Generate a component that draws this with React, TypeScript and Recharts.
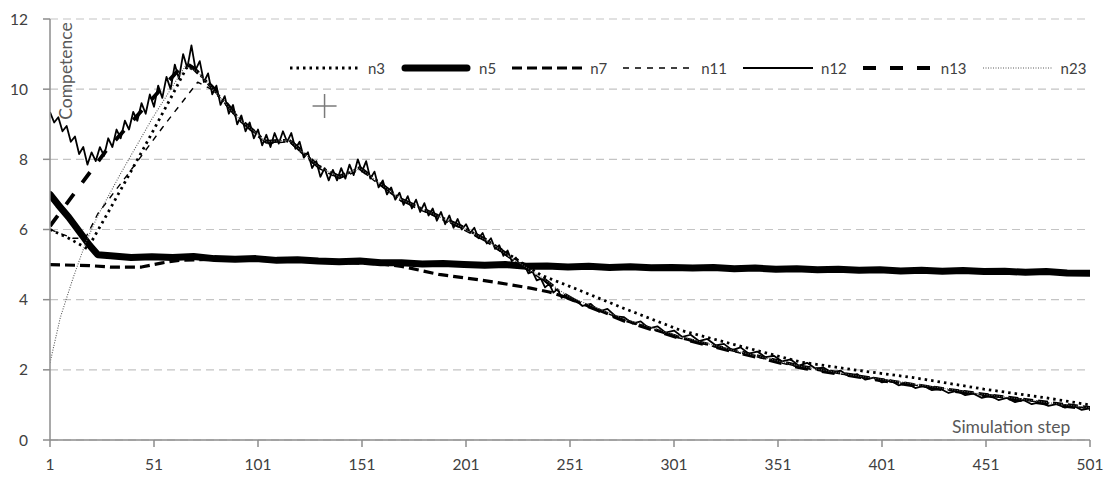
import React from 'react';
import { LineChart, Line, XAxis, YAxis, CartesianGrid, ReferenceDot } from 'recharts';

// ---------- tick labels ----------
const xTicks = [1, 51, 101, 151, 201, 251, 301, 351, 401, 451, 501];
const yTicks = [0, 2, 4, 6, 8, 10, 12];

// ---------- series values ----------
const n3Steps = [1, 10, 19, 30, 45, 60, 67, 72, 80, 92, 105, 116, 130, 140, 150, 160, 170, 185, 198, 212, 224, 237, 250, 277, 304, 330, 362, 390, 416, 450, 480, 501];
const n3Values = [6.0, 5.75, 5.45, 6.6, 8.2, 9.85, 10.65, 10.5, 9.95, 9.15, 8.5, 8.55, 7.8, 7.5, 7.75, 7.3, 6.85, 6.45, 6.12, 5.65, 5.2, 4.7, 4.4, 3.75, 3.13, 2.72, 2.22, 1.98, 1.78, 1.45, 1.2, 1.0];

const n5Steps = [1, 5, 10, 15, 20, 24, 30, 40, 50, 60, 70, 80, 90, 100, 110, 120, 130, 140, 150, 160, 170, 180, 190, 200, 210, 220, 230, 240, 250, 260, 270, 280, 290, 300, 310, 320, 330, 340, 350, 360, 370, 380, 390, 400, 410, 420, 430, 440, 450, 460, 470, 480, 490, 501];
const n5Values = [7.0, 6.7, 6.35, 5.95, 5.55, 5.28, 5.25, 5.2, 5.22, 5.2, 5.23, 5.17, 5.15, 5.17, 5.12, 5.14, 5.1, 5.08, 5.1, 5.05, 5.05, 5.02, 5.03, 5.0, 4.98, 5.0, 4.95, 4.96, 4.93, 4.95, 4.92, 4.94, 4.91, 4.92, 4.9, 4.92, 4.88, 4.9, 4.87, 4.88, 4.85, 4.87, 4.84, 4.85, 4.82, 4.84, 4.81, 4.83, 4.8, 4.81, 4.78, 4.8, 4.76, 4.75];

const n7Steps = [1, 20, 30, 45, 55, 63, 80, 100, 130, 160, 170, 188, 203, 215, 232, 241, 250, 277, 304, 330, 362, 390, 416, 450, 480, 501];
const n7Values = [5.0, 4.97, 4.93, 4.93, 5.05, 5.12, 5.15, 5.12, 5.08, 5.02, 4.95, 4.72, 4.6, 4.5, 4.33, 4.22, 4.05, 3.42, 2.92, 2.55, 2.1, 1.82, 1.58, 1.3, 1.08, 0.92];

const n11Steps = [1, 12, 18, 24, 40, 55, 72, 80, 92, 105, 116, 130, 140, 150, 160, 170, 185, 198, 212, 224, 237, 250, 277, 304, 330, 362, 390, 416, 450, 480, 501];
const n11Values = [6.0, 5.75, 5.75, 6.45, 7.7, 8.9, 10.2, 9.95, 9.1, 8.45, 8.5, 7.75, 7.45, 7.7, 7.25, 6.8, 6.4, 6.05, 5.6, 5.1, 4.6, 4.05, 3.42, 2.9, 2.52, 2.06, 1.8, 1.57, 1.28, 1.05, 0.9];

// n12: every 2nd step from 1 to 249, then every 4th step from 253 to 501
const n12ValuesEarly = [
  9.35, 9.05, 9.2, 8.8, 8.95, 8.5, 8.65, 8.15, 8.35, 7.85,
  8.2, 7.95, 8.35, 8.1, 8.6, 8.35, 8.85, 8.6, 9.1, 8.85,
  9.35, 9.1, 9.6, 9.3, 9.85, 9.5, 10.1, 9.75, 10.35, 10.0,
  10.7, 10.3, 11.0, 10.6, 11.25, 10.55, 10.8, 10.2, 10.45, 9.85,
  10.1, 9.55, 9.8, 9.3, 9.55, 9.0, 9.25, 8.8, 9.05, 8.6,
  8.85, 8.4, 8.7, 8.35, 8.75, 8.45, 8.8, 8.5, 8.75, 8.3,
  8.5, 8.05, 8.2, 7.75, 7.95, 7.5, 7.75, 7.4, 7.7, 7.4,
  7.75, 7.45, 7.85, 7.55, 8.0, 7.65, 7.95, 7.45, 7.65, 7.2,
  7.4, 7.0, 7.2, 6.85, 7.05, 6.7, 6.95, 6.6, 6.85, 6.5,
  6.75, 6.4, 6.6, 6.25, 6.5, 6.15, 6.4, 6.05, 6.3, 6.0,
  6.15, 5.9, 6.05, 5.75, 5.9, 5.6, 5.75, 5.45, 5.55, 5.25,
  5.4, 5.1, 5.2, 4.95, 5.0, 4.75, 4.8, 4.55, 4.6, 4.35,
  4.45, 4.2, 4.3, 4.05, 4.15,
];
const n12ValuesLate = [
  4.02, 3.82, 3.88, 3.66, 3.74, 3.52, 3.5, 3.32, 3.38, 3.18,
  3.24, 3.06, 3.12, 2.94, 3.0, 2.82, 2.88, 2.7, 2.74, 2.56,
  2.64, 2.46, 2.52, 2.36, 2.4, 2.24, 2.3, 2.12, 2.2, 2.04,
  2.06, 1.92, 1.98, 1.82, 1.88, 1.72, 1.78, 1.64, 1.7, 1.56,
  1.62, 1.48, 1.54, 1.42, 1.46, 1.34, 1.4, 1.28, 1.32, 1.2,
  1.26, 1.14, 1.2, 1.08, 1.14, 1.02, 1.08, 0.97, 1.02, 0.92,
  0.98, 0.86, 0.9,
];

const n13Steps = [1, 28, 52, 66, 70, 80, 92, 105, 116, 130, 140, 150, 160, 170, 185, 198, 212, 224, 237, 250, 277, 304, 330, 362, 390, 416, 450, 480, 501];
const n13Values = [6.1, 8.25, 9.85, 10.75, 10.6, 10.0, 9.15, 8.5, 8.55, 7.8, 7.5, 7.75, 7.3, 6.85, 6.45, 6.1, 5.65, 5.15, 4.65, 4.05, 3.4, 2.9, 2.52, 2.06, 1.8, 1.56, 1.28, 1.04, 0.88];

const n23Steps = [1, 6, 12, 18, 24, 35, 50, 66, 72, 80, 92, 105, 116, 130, 140, 150, 160, 170, 185, 198, 212, 224, 237, 250, 277, 304, 330, 362, 390, 416, 450, 480, 501];
const n23Values = [2.2, 3.5, 4.6, 5.6, 6.4, 7.6, 9.15, 10.65, 10.5, 9.95, 9.15, 8.5, 8.55, 7.8, 7.5, 7.75, 7.3, 6.85, 6.45, 6.1, 5.65, 5.15, 4.65, 4.1, 3.45, 2.95, 2.55, 2.1, 1.82, 1.6, 1.3, 1.07, 0.92];

// ---------- helpers ----------
const stepRange = (from: number, to: number, by: number) => {
  const out: number[] = [];
  for (let s = from; s <= to; s += by) out.push(s);
  return out;
};
const n12Steps = [...stepRange(1, 249, 2), ...stepRange(253, 501, 4)];
const n12Values = [...n12ValuesEarly, ...n12ValuesLate];

const zip = (steps: number[], values: number[]) => steps.map((s, i) => ({ step: s, v: values[i] }));

const seriesDefs = [
  { name: 'n3', data: zip(n3Steps, n3Values), stroke: '#000', width: 2.8, dash: '2.5 4', cap: 'butt' },
  { name: 'n5', data: zip(n5Steps, n5Values), stroke: '#000', width: 7, dash: undefined, cap: 'round' },
  { name: 'n7', data: zip(n7Steps, n7Values), stroke: '#000', width: 3.2, dash: '10 5', cap: 'butt' },
  { name: 'n11', data: zip(n11Steps, n11Values), stroke: '#000', width: 1.4, dash: '6 6', cap: 'butt' },
  { name: 'n12', data: zip(n12Steps, n12Values), stroke: '#000', width: 1.8, dash: undefined, cap: 'butt' },
  { name: 'n13', data: zip(n13Steps, n13Values), stroke: '#000', width: 3.8, dash: '13 14', cap: 'butt' },
  { name: 'n23', data: zip(n23Steps, n23Values), stroke: '#5a5a5a', width: 1.1, dash: '1 1.5', cap: 'butt' },
];

const FONT = 'Lato, "Open Sans", sans-serif';
const TICK_STYLE = { fontFamily: FONT, fontSize: 15.5, fill: '#404040' };

const Cross = (props: any) => {
  const { cx, cy } = props;
  if (cx == null || cy == null) return null;
  return (
    <g stroke="#7a7a7a" strokeWidth={1.5}>
      <line x1={cx - 12} y1={cy} x2={cx + 12} y2={cy} />
      <line x1={cx} y1={cy - 12} x2={cx} y2={cy + 12} />
    </g>
  );
};

const LegendBox = () => (
  <div
    style={{
      position: 'absolute',
      left: 282,
      top: 50,
      display: 'flex',
      alignItems: 'center',
      fontFamily: FONT,
      fontSize: 15,
      color: '#404040',
      lineHeight: '20px',
      whiteSpace: 'nowrap',
    }}
  >
    {seriesDefs.map((s) => (
      <div key={s.name} style={{ display: 'flex', alignItems: 'center', marginRight: 16 }}>
        <svg width={70} height={12} style={{ display: 'block' }}>
          <line
            x1={s.cap === 'round' ? 4 : 0}
            y1={6}
            x2={s.cap === 'round' ? 66 : 70}
            y2={6}
            stroke={s.stroke}
            strokeWidth={s.width}
            strokeDasharray={s.dash}
            strokeLinecap={s.cap as any}
          />
        </svg>
        <span style={{ marginLeft: 8 }}>{s.name}</span>
      </div>
    ))}
  </div>
);

export default function App() {
  return (
    <div style={{ position: 'relative', width: 1101, height: 468, background: '#fff' }}>
      <LineChart width={1101} height={468} margin={{ top: 11, right: 19, bottom: 6, left: 0 }}>
        <CartesianGrid vertical={false} stroke="#c4c4c4" strokeDasharray="8 5" strokeWidth={1.2} />
        <XAxis
          dataKey="step"
          type="number"
          domain={[1, 501]}
          ticks={xTicks}
          allowDataOverflow
          height={30}
          tick={TICK_STYLE}
          tickSize={7}
          tickMargin={12}
          stroke="#8c8c8c"
          axisLine={{ stroke: '#8c8c8c', strokeWidth: 1.5 }}
          tickLine={{ stroke: '#8c8c8c', strokeWidth: 1.5 }}
        />
        <YAxis
          type="number"
          domain={[0, 12]}
          ticks={yTicks}
          width={42}
          tick={TICK_STYLE}
          tickSize={7}
          tickMargin={15}
          stroke="#8c8c8c"
          axisLine={{ stroke: '#8c8c8c', strokeWidth: 1.5 }}
          tickLine={{ stroke: '#8c8c8c', strokeWidth: 1.5 }}
        />
        {seriesDefs.map((s) => (
          <Line
            key={s.name}
            data={s.data}
            dataKey="v"
            name={s.name}
            type="linear"
            stroke={s.stroke}
            strokeWidth={s.width}
            strokeDasharray={s.dash}
            strokeLinecap={s.cap as any}
            strokeLinejoin="round"
            dot={false}
            activeDot={false}
            isAnimationActive={false}
          />
        ))}
        <ReferenceDot x={133} y={9.52} r={0} shape={Cross} ifOverflow="visible" />
      </LineChart>
      <LegendBox />
      <div
        style={{
          position: 'absolute',
          left: 58 - 60,
          top: 63 - 10,
          width: 120,
          textAlign: 'center',
          transform: 'rotate(-90deg)',
          fontFamily: FONT,
          fontSize: 17.5,
          lineHeight: '20px',
          color: '#595959',
        }}
      >
        Competence
      </div>
      <div
        style={{
          position: 'absolute',
          left: 944,
          top: 409,
          fontFamily: FONT,
          fontSize: 17.5,
          lineHeight: '20px',
          color: '#595959',
        }}
      >
        Simulation step
      </div>
    </div>
  );
}
